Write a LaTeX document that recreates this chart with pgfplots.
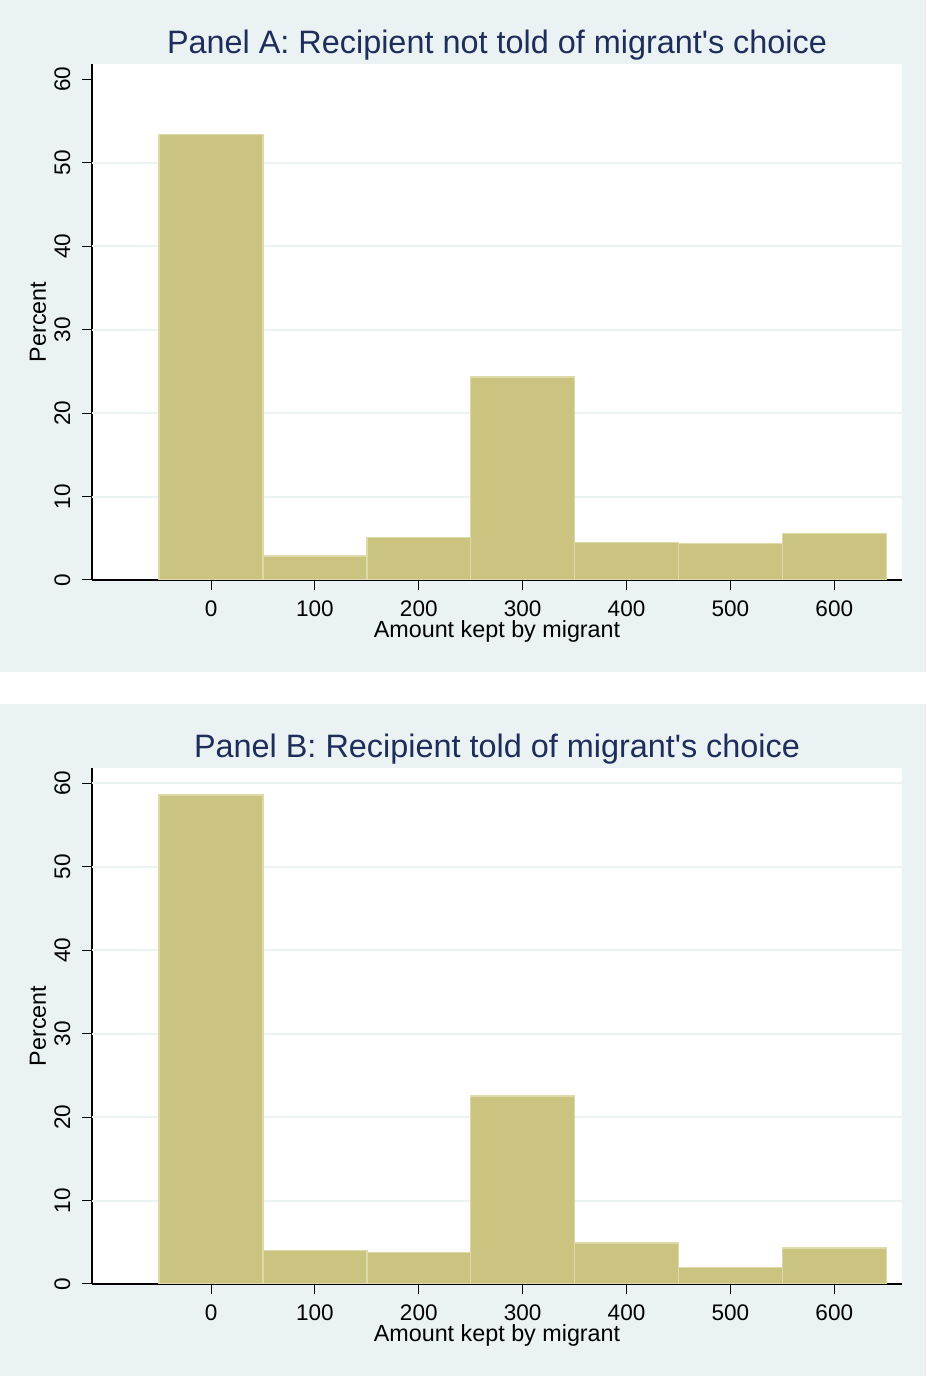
\documentclass[border=0pt]{standalone}
\usepackage{fontspec}
\setmainfont{Liberation Sans}
\usepackage{pgfplots}
\pgfplotsset{compat=1.18}

\definecolor{regionbg}{RGB}{234,242,243}
\definecolor{titlenavy}{RGB}{30,45,90}
\definecolor{khakifill}{RGB}{203,195,128}
\definecolor{khakiedge}{RGB}{222,218,168}

\pgfplotsset{
  layers/barsbelowaxis/.define layer set={axis background,axis grid,main,axis ticks,axis lines,axis tick labels,axis descriptions,axis foreground}{},
  histpanel/.style={
    set layers=barsbelowaxis,
    scale only axis, width=607.5pt, height=387pt,
    xmin=-114.6, xmax=665.2, ymin=0, ymax=61.83,
    axis x line*=bottom, axis y line*=left,
    axis line style={black, line width=1pt},
    axis background/.style={fill=white},
    xtick={0,100,...,600}, ytick={0,10,...,60},
    tick align=outside, major tick length=7.5pt,
    tick style={black, line width=0.75pt},
    /pgf/number format/assume math mode=true,
    /pgf/number format/1000 sep={},
    tick label style={font=\fontsize{16.9}{18}\selectfont},
    x tick label style={yshift=-4.5pt},
    y tick label style={xshift=-5.25pt, rotate=90, anchor=south},
    every axis title/.style={at={(axis description cs:0.5,1)}, anchor=center, yshift=14.25pt,
      font=\fontsize{24.3}{28}\selectfont, text=titlenavy},
    every axis x label/.style={at={(axis description cs:0.5,0)}, anchor=center, yshift=-38.25pt,
      font=\fontsize{17.5}{19}\selectfont},
    every axis y label/.style={at={(axis description cs:0,0.5)}, xshift=-40.5pt, anchor=center, rotate=90,
      font=\fontsize{17.5}{19}\selectfont},
    xlabel={Amount kept by migrant}, ylabel={Percent},
    grid style={regionbg, line width=1.5pt},
    extra y tick labels={},
    extra y tick style={grid=major, major tick length=0pt},
  },
  histbars/.style={ybar interval, fill=khakifill, draw=khakiedge, line width=1.1pt},
}

\begin{document}
\begin{tikzpicture}[x=0.75pt, y=0.75pt]
  % page and the two graph regions
  \fill[white] (0,0) rectangle (926,1376);
  \fill[regionbg] (0,704) rectangle (926,1376);
  \fill[regionbg] (0,0) rectangle (926,672);
  % lower-left corners of the two plot regions
  \coordinate (cornerA) at (92,796);
  \coordinate (cornerB) at (92,92);

  % Panel A
  \begin{axis}[histpanel, at={(cornerA)}, anchor=south west,
      title={Panel A: Recipient not told of migrant\textquotesingle s choice},
      extra y ticks={10,20,30,40,50}]
    \addplot[histbars] coordinates {
      (-50,53.4) (50,2.9) (150,5.1) (250,24.3) (350,4.5) (450,4.4) (550,5.6) (650,5.6)
    };
  \end{axis}

  % Panel B
  \begin{axis}[histpanel, at={(cornerB)}, anchor=south west,
      title={Panel B: Recipient told of migrant\textquotesingle s choice},
      extra y ticks={10,20,30,40,50,60}]
    \addplot[histbars] coordinates {
      (-50,58.6) (50,4.0) (150,3.8) (250,22.5) (350,4.9) (450,2.0) (550,4.3) (650,4.3)
    };
  \end{axis}
\end{tikzpicture}
\end{document}
